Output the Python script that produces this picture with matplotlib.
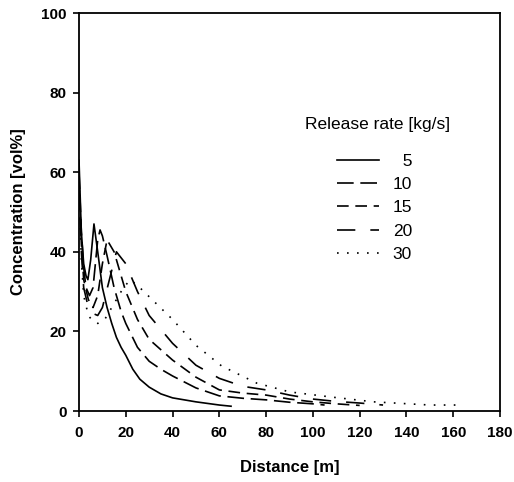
import matplotlib
matplotlib.use('Agg')
import matplotlib.pyplot as plt

plt.rcParams['font.family'] = ['Liberation Sans', 'DejaVu Sans']

# release rate 5 kg/s
x5 = [0, 1, 2, 3, 3.8, 5, 6.4, 8, 10, 12, 14, 16, 18, 20, 23, 26, 30, 35, 40, 45, 50, 55, 60, 65]
c5 = [63, 45, 37, 34, 33, 38, 47, 40, 31, 26, 22, 18.5, 16, 14, 10.5, 8, 6, 4.3, 3.3, 2.8, 2.3, 1.9, 1.5, 1.2]
# 10 kg/s
x10 = [0, 1, 2, 3, 4.5, 6, 7, 8, 9, 10, 12, 15, 18, 20, 25, 30, 35, 40, 50, 60, 70, 80, 90, 100, 105]
c10 = [60, 45, 36, 31, 29, 31, 37, 43, 45.5, 44, 39, 31, 25, 22, 16, 12.5, 10.5, 8.8, 5.8, 3.8, 3.2, 2.8, 2.2, 1.8, 1.5]
# 15 kg/s
x15 = [0, 1, 2, 4, 6, 8, 10, 12, 15, 20, 25, 30, 40, 50, 60, 70, 80, 90, 100, 110, 120]
c15 = [58, 42, 33, 28, 26, 29, 37, 43, 40, 30, 23, 18, 12.8, 8.5, 5.3, 4.5, 4.0, 3.0, 2.3, 1.8, 1.4]
# 20 kg/s
x20 = [0, 1, 2, 4, 6, 8, 10, 13, 16, 20, 25, 30, 40, 50, 60, 70, 80, 90, 100, 110, 120, 130]
c20 = [57, 40, 31, 26, 24.5, 24, 26, 33, 40, 37, 30, 24, 17, 11.5, 8.2, 6.2, 5.3, 4.0, 3.0, 2.4, 2.0, 1.5]
# 30 kg/s
x30 = [0, 1, 2, 4, 6, 8, 11, 15, 19, 22, 26, 33, 40, 50, 61, 76, 90, 108, 126, 150, 163]
c30 = [56, 38, 29, 24, 22.5, 22, 23, 27, 31, 33, 31, 27, 23, 16.5, 11.3, 7, 4.8, 3.5, 2.3, 1.5, 1.5]

series = [
    (x5, c5, '  5', '-'),
    (x10, c10, '10', (0, (10, 4))),
    (x15, c15, '15', (0, (7, 4))),
    (x20, c20, '20', (0, (11, 9))),
    (x30, c30, '30', (0, (1, 5))),
]

fig = plt.figure(figsize=(5.14, 4.82), dpi=100)
ax = fig.add_axes([0.1537, 0.1473, 0.8191, 0.8257])

for xs, cs, lab, ls in series:
    ax.plot(xs, cs, color='k', linestyle=ls, linewidth=1.2, label=lab)

ax.set_xlim(0, 180)
ax.set_ylim(0, 100)
ax.set_xticks(range(0, 181, 20))
ax.set_yticks(range(0, 101, 20))
ax.tick_params(direction='out', length=4, width=1.2, labelsize=11)
ax.tick_params(axis='x', pad=7)
ax.tick_params(axis='y', pad=5)
for t in ax.get_xticklabels() + ax.get_yticklabels():
    t.set_fontweight('bold')
for s in ax.spines.values():
    s.set_linewidth(1.3)

ax.set_xlabel('Distance [m]', fontsize=12, fontweight='bold', labelpad=14)
ax.set_ylabel('Concentration [vol%]', fontsize=12, fontweight='bold', labelpad=11)

# legend title placed on its own, the gap below it is larger than usual
ax.text(0.537, 0.72, 'Release rate [kg/s]', transform=ax.transAxes,
        fontsize=12.5, ha='left', va='center')
leg = ax.legend(frameon=False, loc='upper left',
                bbox_to_anchor=(0.613, 0.647), fontsize=12.5,
                handlelength=2.4, labelspacing=0.47, handletextpad=0.8,
                borderaxespad=0, borderpad=0)
for h in leg.get_lines():
    h.set_linewidth(1.2)

fig.savefig('out.png', dpi=100)
